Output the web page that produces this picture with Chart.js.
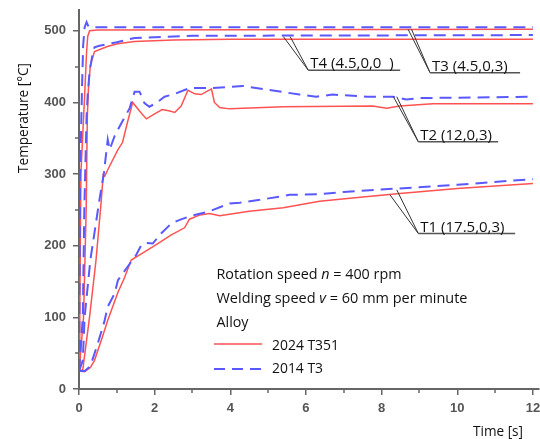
<!DOCTYPE html>
<html><head><meta charset="utf-8">
<script src="https://cdn.jsdelivr.net/npm/chart.js@4.4.0/dist/chart.umd.min.js"></script>
<style>html,body{margin:0;padding:0;background:#fff;}</style>
</head><body>
<canvas id="c" width="540" height="439" style="display:block;width:540px;height:439px"></canvas>
<script>
// ---- data (time in s, temperature in °C) ----
const t1RedTime  = [0,0.15,0.3,0.41,0.59,0.76,1.03,1.2,1.38,1.69,2.0,2.44,2.79,2.92,3.2,3.45,3.72,4.5,5.4,6.36,7.5,8.48,10,12];
const t1RedTemp  = [25,24,30,40,68,96,135,155,180,190,200,215,225,237,243,245,242,248,253,262,268,273,280,287];
const t1BlueTime = [0,0.15,0.3,0.5,0.67,0.76,0.94,1.03,1.29,1.51,1.65,1.78,1.95,2.17,2.44,2.66,2.92,3.45,3.98,4.25,4.78,5.57,6.36,7,8.48,10,12];
const t1BlueTemp = [25,25,32,64,94,115,133,152,171,187,201,204,203,217,231,236,241,248,259,260,264,271,272,275,280,285,293];

const t2RedTime  = [0,0.1,0.28,0.45,0.59,0.64,0.68,0.76,1.03,1.15,1.28,1.42,1.6,1.78,2.0,2.2,2.4,2.53,2.7,2.88,3.06,3.23,3.5,3.58,3.72,3.98,5.4,7.77,8.13,8.48,9.35,12];
const t2RedTemp  = [25,27,101,180,264,299,297,306,334,344,372,400,388,377,384,390,388,386,395,417,412,411,419,400,393,391,394,395,392,395,398,398];
const t2BlueTime = [0,0.1,0.15,0.3,0.54,0.66,0.72,0.76,0.81,0.94,1.12,1.34,1.47,1.6,1.73,1.86,2.04,2.26,2.53,2.92,3.53,4.33,4.95,5.83,6.27,6.7,7.6,8.3,8.65,9.0,12];
const t2BlueTemp = [25,40,101,180,264,302,330,348,334,353,371,392,415,415,399,394,399,408,412,420,420,423,418,411,408,411,408,408,404,406,408];

const t3RedTime  = [0,0.02,0.05,0.15,0.2,0.23,0.28,0.5,12];
const t3RedTemp  = [25,100,300,411,470,492,500,501,502];
const t3BlueTime = [0,0.01,0.03,0.08,0.11,0.15,0.2,0.25,0.4,12];
const t3BlueTemp = [25,100,300,420,480,505,512,506,505,505];

const t4RedTime  = [0,0.12,0.19,0.22,0.25,0.3,0.41,0.75,1.02,1.47,2.5,4,12];
const t4RedTemp  = [25,100,250,380,420,452,471,478,482,485,487,488,488];
const t4BlueTime = [0,0.1,0.14,0.2,0.23,0.28,0.35,0.41,0.54,1.0,1.47,3,12];
const t4BlueTemp = [25,100,250,380,411,443,465,477,479,484,490,493,494];

const xMajorTicks = [0,2,4,6,8,10,12];
const xMinorTicks = [1,3,5,7,9,11];
const yMajorTicks = [0,100,200,300,400,500];
const yMinorTicks = [50,150,250,350,450];

const alloyNames = ['2024 T351','2014 T3'];
const probeLabels = ['T1 (17.5,0,3)','T2 (12,0,3)','T3 (4.5,0,3)','T4 (4.5,0,0  )'];

// ---- build ----
const RED = '#ff5252', BLUE = '#5959ff';
const pts = (ts, vs) => ts.map((t, i) => ({x: t, y: vs[i]}));
const blueStyle = {borderColor: BLUE, borderWidth: 2, borderDash: [12, 7], pointRadius: 0, fill: false, tension: 0};
const redStyle = {borderColor: RED, borderWidth: 1.5, pointRadius: 0, fill: false, tension: 0};
const datasets = [
  {label: alloyNames[1] + ' T1', data: pts(t1BlueTime, t1BlueTemp), ...blueStyle},
  {label: alloyNames[1] + ' T2', data: pts(t2BlueTime, t2BlueTemp), ...blueStyle},
  {label: alloyNames[1] + ' T3', data: pts(t3BlueTime, t3BlueTemp), ...blueStyle},
  {label: alloyNames[1] + ' T4', data: pts(t4BlueTime, t4BlueTemp), ...blueStyle},
  {label: alloyNames[0] + ' T1', data: pts(t1RedTime, t1RedTemp), ...redStyle},
  {label: alloyNames[0] + ' T2', data: pts(t2RedTime, t2RedTemp), ...redStyle},
  {label: alloyNames[0] + ' T3', data: pts(t3RedTime, t3RedTemp), ...redStyle},
  {label: alloyNames[0] + ' T4', data: pts(t4RedTime, t4RedTemp), ...redStyle},
];

// annotation leaders in data coordinates: two anchor points, knee, end of underline (time)
const annotations = [
  {label: probeLabels[0], from: [[8.22, 271], [8.40, 278]], knee: [8.97, 217], end: 11.53},
  {label: probeLabels[1], from: [[8.31, 408], [8.40, 408]], knee: [8.97, 345], end: 11.08},
  {label: probeLabels[2], from: [[8.70, 502], [8.79, 502]], knee: [9.28, 441.5], end: 11.66},
  {label: probeLabels[3], from: [[5.40, 492], [5.58, 492]], knee: [6.06, 445], end: 8.49},
];

const TEXT_FONT = '"Open Sans", "Noto Sans", sans-serif';
function rich(ctx, parts, x, y, width, size) {
  let total = 0;
  parts.forEach(p => { ctx.font = (p.i ? 'italic ' : '') + size + 'px ' + TEXT_FONT; total += ctx.measureText(p.s).width; });
  const k = width ? Math.min(1, width / total) : 1;
  ctx.save(); ctx.translate(x, y); ctx.scale(k, 1);
  let cx = 0;
  parts.forEach(p => { ctx.font = (p.i ? 'italic ' : '') + size + 'px ' + TEXT_FONT; ctx.fillText(p.s, cx, 0); cx += ctx.measureText(p.s).width; });
  ctx.restore();
}

const decor = {
  id: 'decor',
  afterDraw(chart) {
    const ctx = chart.ctx, xs = chart.scales.x, ys = chart.scales.y;
    const px = v => xs.getPixelForValue(v), py = v => ys.getPixelForValue(v);
    ctx.save();
    // minor ticks
    ctx.strokeStyle = '#666'; ctx.lineWidth = 1.5;
    yMinorTicks.forEach(v => { const y = Math.round(py(v)); ctx.beginPath(); ctx.moveTo(chart.chartArea.left - 4, y); ctx.lineTo(chart.chartArea.left, y); ctx.stroke(); });
    xMinorTicks.forEach(v => { const x = Math.round(px(v)); ctx.beginPath(); ctx.moveTo(x, chart.chartArea.bottom); ctx.lineTo(x, chart.chartArea.bottom + 4); ctx.stroke(); });

    // annotations
    ctx.textBaseline = 'alphabetic'; ctx.fillStyle = '#111';
    annotations.forEach(a => {
      const kx = px(a.knee[0]), ky = py(a.knee[1]);
      ctx.strokeStyle = '#333'; ctx.lineWidth = 1;
      a.from.forEach(f => { ctx.beginPath(); ctx.moveTo(px(f[0]), py(f[1])); ctx.lineTo(kx, ky); ctx.stroke(); });
      ctx.strokeStyle = '#555'; ctx.lineWidth = 1.5;
      ctx.beginPath(); ctx.moveTo(kx, ky); ctx.lineTo(px(a.end), ky); ctx.stroke();
      rich(ctx, [{s: a.label}], kx + 2, ky - 2, px(a.end) - kx - 6, 15);
    });

    // legend block
    ctx.fillStyle = '#111';
    rich(ctx, [{s: 'Rotation speed '}, {s: 'n', i: 1}, {s: ' = 400 rpm'}], 216.5, 279, 185, 15);
    rich(ctx, [{s: 'Welding speed '}, {s: 'v', i: 1}, {s: ' = 60 mm per minute'}], 216.5, 303, 251, 15);
    rich(ctx, [{s: 'Alloy'}], 216.5, 327, 32, 15);
    ctx.lineWidth = redStyle.borderWidth; ctx.strokeStyle = RED; ctx.setLineDash([]);
    ctx.beginPath(); ctx.moveTo(214, 344); ctx.lineTo(262, 344); ctx.stroke();
    rich(ctx, [{s: alloyNames[0]}], 272, 350, 67, 15);
    ctx.lineWidth = blueStyle.borderWidth; ctx.strokeStyle = BLUE; ctx.setLineDash([11, 7]);
    ctx.beginPath(); ctx.moveTo(214, 369); ctx.lineTo(262, 369); ctx.stroke();
    ctx.setLineDash([]);
    rich(ctx, [{s: alloyNames[1]}], 272, 373, 51, 15);

    // axis titles
    rich(ctx, [{s: 'Time [s]'}], 473, 436, 50, 15);
    ctx.save(); ctx.translate(28, 118); ctx.rotate(-Math.PI / 2);
    ctx.font = '15px ' + TEXT_FONT; const w = ctx.measureText('Temperature [°C]').width;
    const k = Math.min(1, 110 / w); ctx.scale(k, 1);
    ctx.fillText('Temperature [°C]', -w / 2, 0);
    ctx.restore();
    ctx.restore();
  }
};

new Chart(document.getElementById('c'), {
  type: 'line',
  data: {datasets},
  options: {
    responsive: false, animation: false, devicePixelRatio: 1,
    layout: {padding: {top: 10, right: 1, left: 0, bottom: 0}},
    plugins: {legend: {display: false}, tooltip: {enabled: false}},
    scales: {
      x: {
        type: 'linear', min: 0, max: 12.16,
        afterBuildTicks: s => { s.ticks = xMajorTicks.map(v => ({value: v})); },
        afterFit: s => { s.height = 50; s.paddingLeft = 0; s.paddingRight = 0; },
        grid: {drawOnChartArea: false, tickLength: 6, color: '#666', lineWidth: 1.5},
        border: {color: '#666', width: 2},
        ticks: {color: '#555', font: {family: '"Liberation Sans", Arial, sans-serif', size: 13, weight: 'bold'}, padding: 6, maxRotation: 0}
      },
      y: {
        type: 'linear', min: 0, max: 529,
        afterBuildTicks: s => { s.ticks = yMajorTicks.map(v => ({value: v})); },
        afterFit: s => { s.width = 79; s.paddingTop = 0; s.paddingBottom = 0; },
        grid: {drawOnChartArea: false, tickLength: 6, color: '#666', lineWidth: 1.5},
        border: {color: '#666', width: 2},
        ticks: {color: '#555', font: {family: '"Liberation Sans", Arial, sans-serif', size: 13, weight: 'bold'}, padding: 7}
      }
    }
  },
  plugins: [decor]
});
</script>
</body></html>
